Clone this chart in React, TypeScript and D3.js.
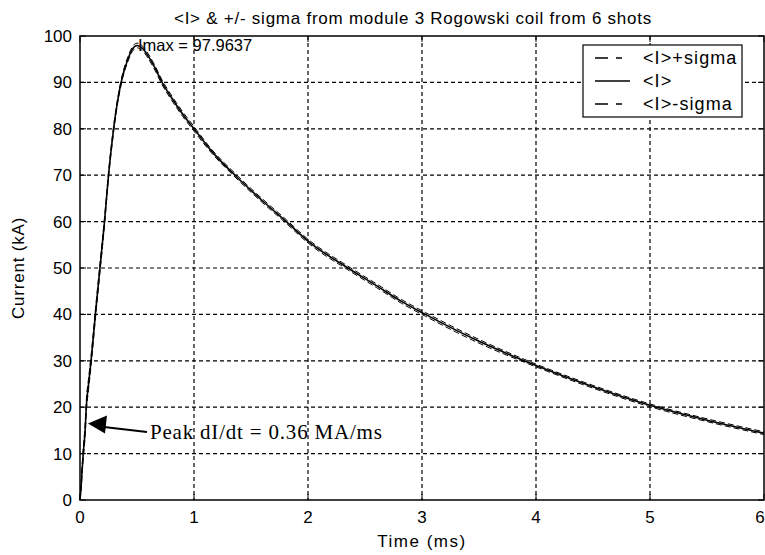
import React from "react";
import * as d3 from "d3";

const timeMs = [0, 0.01, 0.02, 0.03, 0.045, 0.055, 0.075, 0.097, 0.135, 0.175, 0.215, 0.25, 0.29, 0.33, 0.37, 0.42, 0.46, 0.5, 0.55, 0.6, 0.66, 0.72, 0.8, 0.9, 1.0, 1.15, 1.36, 1.6, 1.81, 2.0, 2.35, 2.6, 2.82, 3.03, 3.5, 4.0, 4.5, 5.0, 5.5, 6.0];
const meanCurrent = [0, 3, 7, 10.5, 15, 20, 25, 30, 40, 50, 60, 70, 79, 86, 91, 95, 97.2, 97.96, 97.3, 95.6, 93, 90, 86.8, 83.2, 80, 75.3, 70, 64.5, 60, 55.8, 50, 46.2, 42.8, 40, 34.2, 29, 24.4, 20.4, 17.2, 14.4];
const sigmaCurrent = [0, 0.6, 0.9, 1.2, 1.3, 1.3, 1.2, 1.1, 1.0, 0.9, 0.8, 0.6, 0.6, 0.5, 0.5, 0.5, 0.5, 0.5, 0.5, 0.5, 0.5, 0.5, 0.5, 0.5, 0.5, 0.4, 0.4, 0.4, 0.4, 0.4, 0.4, 0.4, 0.4, 0.4, 0.4, 0.3, 0.3, 0.3, 0.3, 0.3];

const xTicks = [0, 1, 2, 3, 4, 5, 6];
const yTicks = [0, 10, 20, 30, 40, 50, 60, 70, 80, 90, 100];
const legendLabels = ["<I>+sigma", "<I>", "<I>-sigma"];
const titleText = "<I> & +/- sigma from module 3 Rogowski coil from 6 shots";
const peakLabel = "Imax = 97.9637";
const slopeLabel = "Peak dI/dt = 0.36 MA/ms";
const xLabel = "Time (ms)";
const yLabel = "Current (kA)";

const W = 765;
const H = 555;
const L = 80, R = 764, T = 36, B = 500;
const SANS = "'Liberation Sans', Arial, Helvetica, sans-serif";
const SERIF = "'Liberation Serif', 'Times New Roman', serif";

export default function App() {
  const x = d3.scaleLinear().domain([0, 6]).range([L, R]);
  const y = d3.scaleLinear().domain([0, 100]).range([B, T]);
  const pts = timeMs.map((t, i) => ({ t, m: meanCurrent[i], s: sigmaCurrent[i] }));
  const lineGen = (acc: (d: any) => number) =>
    d3.line<any>().x((d) => x(d.t)).y((d) => y(acc(d))).curve(d3.curveMonotoneX)(pts) || "";
  const meanPath = lineGen((d) => d.m);
  const upPath = lineGen((d) => d.m + d.s);
  const loPath = lineGen((d) => Math.max(0, d.m - d.s));

  const peakT = 0.5;
  const arrowTip = { t: 0.07, v: 16.5 };
  const tipX = x(arrowTip.t), tipY = y(arrowTip.v);

  return (
    <svg width={W} height={H} style={{ display: "block", position: "absolute", left: 0, top: 0, background: "#fff" }}>
      <rect x={0} y={0} width={W} height={H} fill="#fff" />
      {xTicks.slice(1, -1).map((t) => (
        <line key={"gx" + t} x1={x(t)} x2={x(t)} y1={T} y2={B} stroke="#000" strokeWidth={1.2} strokeDasharray="4,3" />
      ))}
      {yTicks.slice(1, -1).map((v) => (
        <line key={"gy" + v} x1={L} x2={R} y1={y(v)} y2={y(v)} stroke="#000" strokeWidth={1.2} strokeDasharray="4,3" />
      ))}
      {xTicks.map((t, i) => (
        <g key={"tx" + t}>
          <line x1={x(t)} x2={x(t)} y1={B} y2={B - 6} stroke="#000" />
          <line x1={x(t)} x2={x(t)} y1={T} y2={T + 6} stroke="#000" />
          <text x={i === xTicks.length - 1 ? x(t) - 4 : x(t)} y={523} textAnchor="middle" fontFamily={SANS} fontSize={17} fill="#000">{t}</text>
        </g>
      ))}
      {yTicks.map((v) => (
        <g key={"ty" + v}>
          <line x1={L} x2={L + 6} y1={y(v)} y2={y(v)} stroke="#000" />
          <line x1={R} x2={R - 6} y1={y(v)} y2={y(v)} stroke="#000" />
          <text x={72} y={y(v) + 6} textAnchor="end" fontFamily={SANS} fontSize={17} fill="#000">{v}</text>
        </g>
      ))}
      <path d={upPath} fill="none" stroke="#000" strokeWidth={1} strokeDasharray="6,3" />
      <path d={loPath} fill="none" stroke="#000" strokeWidth={1} strokeDasharray="6,3" />
      <path d={meanPath} fill="none" stroke="#000" strokeWidth={1.6} />
      <rect x={L} y={T} width={R - L} height={B - T} fill="none" stroke="#000" strokeWidth={1.5} />
      <g>
        <rect x={583} y={45} width={159} height={72} fill="#fff" stroke="#000" strokeWidth={1.2} />
        {legendLabels.map((lab, i) => {
          const ly = 58 + i * 23;
          return (
            <g key={lab}>
              <line x1={595} x2={i === 1 ? 630 : 622} y1={ly} y2={ly} stroke="#000" strokeWidth={1.3} strokeDasharray={i === 1 ? undefined : "13,8,6,40"} />
              <text x={643} y={ly + 6} fontFamily={SANS} fontSize={18} letterSpacing={1.1} fill="#000">{lab}</text>
            </g>
          );
        })}
      </g>
      <text x={x(peakT) + 1} y={51} fontFamily={SANS} fontSize={16.5} fill="#000">{peakLabel}</text>
      <line x1={147} y1={432} x2={104} y2={427} stroke="#000" strokeWidth={2} />
      <path d={`M${tipX},${tipY} L${tipX + 19},${tipY - 8} L${tipX + 17},${tipY + 10} Z`} fill="#000" />
      <text x={150} y={439} fontFamily={SERIF} fontSize={21} letterSpacing={0.8} fill="#000">{slopeLabel}</text>
      <text x={(L + R) / 2 - 9} y={24} textAnchor="middle" fontFamily={SANS} fontSize={17} letterSpacing={0.75} fill="#000">{titleText}</text>
      <text x={(L + R) / 2} y={547} textAnchor="middle" fontFamily={SANS} fontSize={17} letterSpacing={1.5} fill="#000">{xLabel}</text>
      <text transform={`translate(24,268) rotate(-90)`} textAnchor="middle" fontFamily={SANS} fontSize={17} letterSpacing={0.8} fill="#000">{yLabel}</text>
    </svg>
  );
}
